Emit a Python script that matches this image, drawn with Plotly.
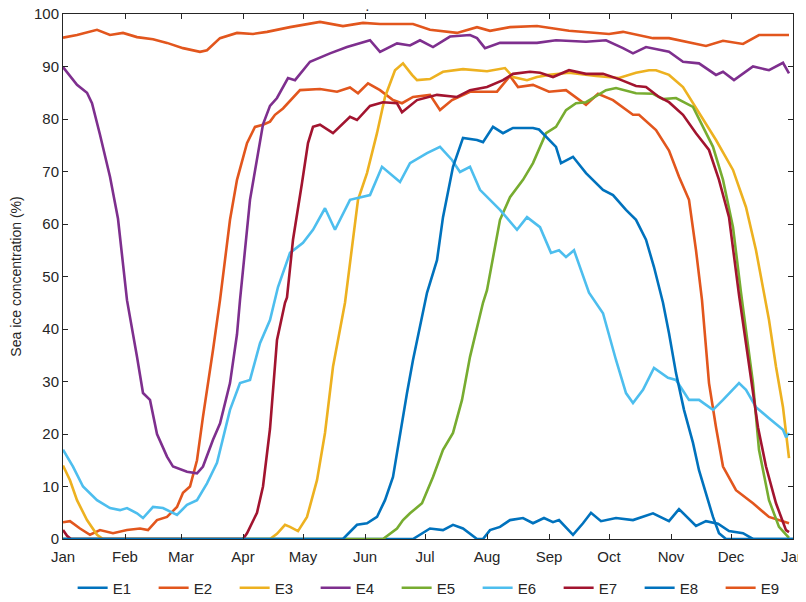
import plotly.graph_objects as go

# Day-of-year (0 = 1 Jan) and sea-ice concentration (%) for each site
e1_day = [0, 175, 183.5, 190, 195, 200, 207, 210, 213.5, 218.5, 223.5, 230, 235, 240.5, 245, 248, 255, 260, 264, 269,
          276.5, 285, 295, 303, 308, 316.5, 321.5, 327.5, 333, 340, 345, 365]
e1_val = [0, 0, 2, 1.7, 2.7, 2, 0, 0, 1.7, 2.3, 3.6, 4, 3, 4, 3.2, 3.6, 0.8, 3, 5, 3.4,
          4, 3.6, 4.9, 3.4, 5.7, 2.5, 3.4, 2.9, 1.5, 1.1, 0, 0]

e2_day = [0, 3.5, 8.5, 13.5, 18.5, 25, 32, 38.5, 42.5, 47, 52, 57, 60, 63.5, 67, 70, 75, 78.5, 83.5, 87, 92, 96, 100,
          103.5, 106, 110, 118.5, 128.5, 137, 143.5, 147.5, 152.5, 158.5, 165, 169.5, 175, 183.5, 188.5, 194.5, 203.5,
          217, 223.5, 227.5, 235, 243, 251.5, 261.5, 267.5, 275, 285, 288, 296.5, 303, 308, 313, 316.5, 319.5, 323,
          326.5, 330, 336.5, 345, 353, 363]
e2_val = [3.2, 3.4, 2, 0.8, 1.7, 1.1, 1.7, 2, 1.7, 3.6, 4.2, 6.1, 8.8, 10, 15, 23.3, 36, 45.5, 60.8, 68.4, 75.4, 78.5, 78.9,
          79.5, 80.8, 82, 85.5, 85.7, 85.2, 86, 84.9, 86.8, 85.5, 83.6, 83, 84.2, 84.6, 81.7, 83.6, 85.2,
          85.2, 88.2, 86.1, 86.5, 85.2, 85.5, 82.7, 84.8, 83.6, 80.8, 80.8, 77.9, 74, 69, 64.6, 55, 45.5, 29.7,
          21.3, 13.8, 9.3, 6.8, 4.2, 3]

e3_day = [0, 3.5, 7, 12, 17, 20, 103.5, 107, 111, 113.5, 117.5, 122, 127, 131, 135, 141, 147.5, 152, 157, 161, 166, 170,
          174.5, 177, 183.5, 190, 200, 212, 221, 225, 232, 237, 243, 253, 266.5, 278, 286.5, 293, 296.5, 303, 310,
          315, 320, 326.5, 335, 341.5, 346.5, 351, 353, 356.5, 360, 363]
e3_val = [14, 11.2, 7.4, 3.6, 0.8, 0, 0, 1, 2.7, 2.3, 1.5, 4.2, 11.2, 20.2, 32.8, 45, 64.6, 69.7, 77.3, 84.2, 89.3, 90.6,
          88.4, 87.4, 87.6, 89, 89.5, 89.1, 89.7, 88, 87.4, 88, 88.4, 88.8, 88.2, 87.8, 88.8, 89.3, 89.3, 88.4, 86.1,
          83, 79.8, 76, 70.3, 63.2, 55, 45.5, 41.7, 32.8, 25.1, 15.4]

e4_day = [0, 7, 12, 14.5, 18.5, 23.5, 27.5, 32, 37, 40, 43.5, 47, 52, 55, 62, 67, 70, 75, 78.5, 83.5, 87, 88.5, 93.5,
          100, 103.5, 107, 112.5, 116, 123.5, 133.5, 142, 153.5, 158.5, 167, 173.5, 178.5, 185, 193.5, 203.5, 207,
          211, 218.5, 237, 246.5, 261.5, 271.5, 280, 285, 291.5, 303, 310, 318, 326.5, 330, 335.5, 345, 353, 360, 363]
e4_val = [89.9, 86.5, 85, 83, 77, 69, 61, 45.5, 34.7, 27.8, 26.5, 20, 15.7, 13.8, 12.8, 12.5, 13.8, 18.9, 22, 29.7, 39,
          45.5, 64.6, 79, 82.5, 84, 87.8, 87.4, 90.9, 92.5, 93.7, 95, 92.8, 94.4, 94, 95, 93.7, 95.7, 96, 95.4,
          93.5, 94.5, 94.5, 95, 94.7, 95, 93.5, 92.5, 93.7, 92.8, 90.9, 90.6, 88.4, 89, 87.4, 90, 89.3, 90.7, 88.7]

e5_day = [0, 160, 167, 170, 173.5, 179.5, 185, 190, 195, 199.5, 203.5, 210, 212, 218.5, 223.5, 230, 235, 238.5, 241.5,
          246.5, 251.5, 256.5, 261.5, 271.5, 276.5, 286.5, 295, 300, 306.5, 315, 320, 325, 330, 335, 339, 340, 345,
          348, 353, 358, 363]
e5_val = [0, 0, 2, 3.6, 4.9, 6.8, 11.8, 17, 20.2, 26.5, 34.7, 45, 47.4, 60.8, 65.1, 68.4, 71.6, 74.5, 77.3,
          78.5, 81.7, 83, 83.2, 85.5, 85.9, 84.9, 84.8, 83.8, 84, 82.3, 78.5, 74.7, 68.4, 59.4, 46.9, 44.2, 29.7,
          17, 7.4, 2.3, 0.2]

e6_day = [0, 5, 10, 17, 23.5, 28.5, 32, 37, 40, 45, 50, 57, 62, 67, 72, 77, 83.5, 88.5, 93.5, 98.5, 103.5, 107.5, 113.5,
          120, 125, 131, 136, 143.5, 153.5, 159.5, 168.5, 173.5, 182, 188.5, 194.5, 198.5, 203.5, 208.5, 218.5, 227,
          232, 238.5, 244, 248, 251.5, 255.5, 263, 266.5, 270, 276.5, 281.5, 285, 290, 295.5, 302.5, 306.5, 313,
          318, 325, 330, 338, 341.5, 346.5, 353, 360, 361.5, 363]
e6_val = [17, 13.8, 10, 7.4, 5.9, 5.5, 5.9, 4.9, 4, 6.1, 5.9, 4.6, 6.5, 7.4, 10.6, 14.5, 24.6, 29.7, 30.3, 37.3, 41.7, 48,
          54.5, 56.4, 58.9, 63, 58.9, 64.6, 65.5, 70.9, 68, 71.6, 73.5, 74.7, 72.2, 69.9, 70.9, 66.5, 62.7, 58.9,
          61.3, 59.4, 54.5, 55, 53.7, 55, 46.9, 45, 43, 34.1, 27.8, 25.9, 28.4, 32.6, 30.7, 30.3, 26.5,
          26.5, 24.6, 26.5, 29.7, 28.4, 25.1, 23, 20.8, 19.4, 20.2]

e7_day = [0, 2, 4, 90, 92, 97, 100, 103.5, 107, 111, 112, 115, 119.5, 122.5, 125, 128.5, 135, 143.5, 147, 153.5, 160,
          167, 169.5, 177, 187, 197, 203.5, 212, 220, 225, 233.5, 238.5, 245, 253, 261.5, 270, 278, 286.5, 291.5,
          298, 303, 310, 316.5, 323, 328, 333, 338, 343, 347.5, 351.5, 356.5, 361.5, 363]
e7_val = [1.7, 0.6, 0, 0, 1.1, 5, 10, 21, 37.9, 45, 46, 57, 67.8, 75.4, 78.5, 78.9, 77.3, 80.4, 79.8, 82.5, 83.2,
          83, 81.3, 83.6, 84.6, 84.2, 85.5, 86.1, 87.4, 88.6, 89, 88.8, 88, 89.3, 88.6, 88.6, 87.6, 86.3, 86.1,
          84.2, 83.2, 80.8, 77.3, 74.1, 68.4, 61.3, 46.5, 32.8, 21.3, 13.8, 6.8, 1.7, 1.3]

e8_day = [0, 140, 147, 152, 157, 161, 165, 168.5, 172, 175, 178.5, 181, 182, 187, 190, 195, 200, 207, 210, 215, 220, 225,
          235, 238, 241.5, 246.5, 249, 255, 261.5, 270, 275, 281.5, 286.5, 291.5, 295.5, 299, 300, 303, 306.5,
          310.5, 315, 318, 321.5, 325, 328, 331.5, 365]
e8_val = [0, 0, 2.7, 3, 4.2, 7.4, 11.8, 20.2, 27.8, 34.1, 40.4, 45.5, 46.9, 53.1, 61.3, 70.9, 76.4, 76, 75.6, 78.5, 77.3,
          78.3, 78.3, 78, 76.6, 74.7, 71.6, 72.8, 69.7, 66.5, 65.5, 62.7, 60.8, 57, 51.8, 46.9, 45, 39.2, 31.6,
          24.6, 18.3, 13.1, 8.8, 4.2, 1.1, 0, 0]

e9_day = [0, 7, 17, 23.5, 30, 37, 45, 52, 60, 68.5, 72, 78.5, 87, 95, 102, 113.5, 128.5, 140, 150, 158.5, 175, 183.5,
          197, 207, 213.5, 223.5, 237, 253, 273, 280, 295, 303, 321.5, 330, 340, 348, 363]
e9_val = [95.5, 96, 97, 96, 96.4, 95.6, 95.2, 94.5, 93.5, 92.8, 93.1, 95.4, 96.4, 96.2, 96.6, 97.5, 98.5, 97.7, 98.3,
          98.1, 98.1, 97, 96.4, 97.5, 96.8, 97.5, 97.7, 96.8, 96.2, 96.6, 95.4, 95.4, 93.9, 94.9, 94.3, 96, 96]

series_names = ["E1", "E2", "E3", "E4", "E5", "E6", "E7", "E8", "E9"]
series_colors = ["#0072BD", "#E2561D", "#EDB120", "#7E2F8E", "#77AC30", "#4DBEEE", "#A2142F", "#0072BD", "#E2561D"]

month_ticks = [0, 31, 59, 90, 120, 151, 181, 212, 243, 273, 304, 334, 365]
month_labels = ["Jan", "Feb", "Mar", "Apr", "May", "Jun", "Jul", "Aug", "Sep", "Oct", "Nov", "Dec", "Jan"]
y_ticks = [0, 10, 20, 30, 40, 50, 60, 70, 80, 90, 100]

days = [e1_day, e2_day, e3_day, e4_day, e5_day, e6_day, e7_day, e8_day, e9_day]
vals = [e1_val, e2_val, e3_val, e4_val, e5_val, e6_val, e7_val, e8_val, e9_val]

fig = go.Figure()
for name, col, d, v in zip(series_names, series_colors, days, vals):
    fig.add_trace(go.Scatter(x=d, y=v, mode="lines", name=name,
                             line=dict(color=col, width=2.6)))

axis_common = dict(showgrid=False, zeroline=False, showline=True, linecolor="#262626", linewidth=1,
                   mirror="ticks", ticks="inside", ticklen=5, tickcolor="#262626", automargin=False,
                   ticklabeloverflow="allow",
                   tickfont=dict(family="Liberation Sans, Arial", size=15, color="#262626"))

# the page body adds an 8px offset, so the figure is sized to fit the window
fig.update_layout(
    width=798, height=594,
    margin=dict(l=55, r=13, t=6, b=63, autoexpand=False),
    paper_bgcolor="white", plot_bgcolor="white",
    font=dict(family="Liberation Sans, Arial", size=14, color="#262626"),
    xaxis=dict(range=[0, 365], tickvals=month_ticks, ticktext=month_labels, ticklabelstandoff=4, **axis_common),
    yaxis=dict(range=[0, 100], tickvals=y_ticks,
               title=dict(text="Sea ice concentration (%)", font=dict(size=14, color="#262626"), standoff=18),
               **axis_common),
    legend=dict(orientation="h", xref="container", yref="container", x=0.081, xanchor="left",
                y=0.0236, yanchor="middle", entrywidth=36, entrywidthmode="pixels",
                font=dict(size=15, color="#262626"), bgcolor="rgba(0,0,0,0)"),
    showlegend=True,
    annotations=[dict(x=152, y=1.0095, xref="x", yref="paper", text="·", showarrow=False,
                      font=dict(size=14, color="#262626"), yanchor="middle")],
)

fig.write_html("out.html")
